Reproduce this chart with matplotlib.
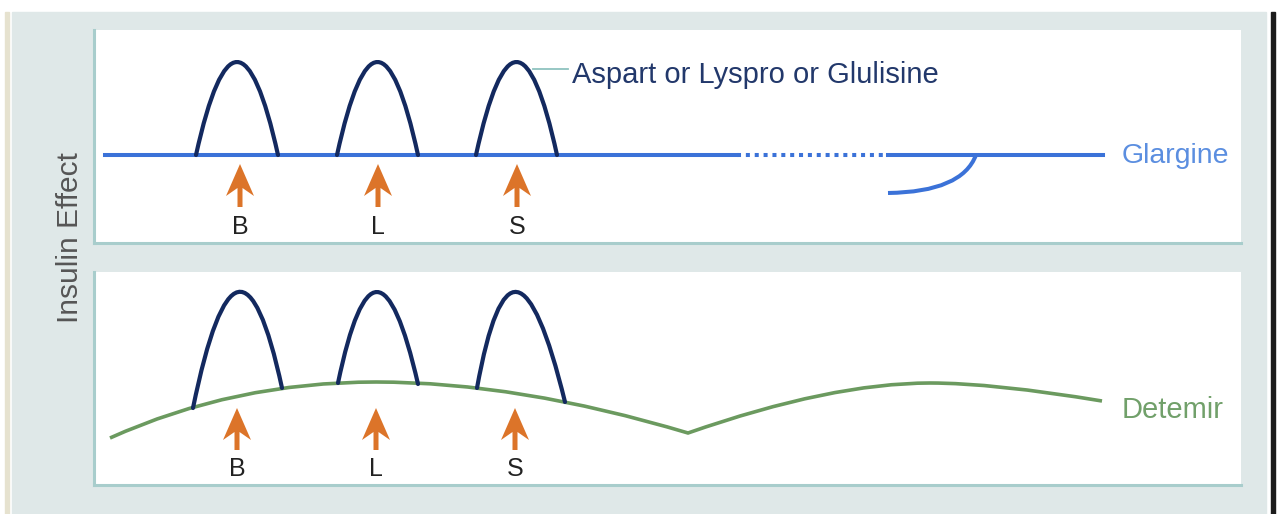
import matplotlib.pyplot as plt
from matplotlib.path import Path
from matplotlib.patches import PathPatch, FancyArrow, Rectangle

plt.rcParams["font.family"] = ["Liberation Sans", "DejaVu Sans"]

# ---------- Data (x = time position, y = insulin effect, panel units) ----------
meal_labels = ["B", "L", "S"]

# top panel: rapid-acting humps over flat glargine
top_meal_x = [146, 284, 423]
top_hump_left = [102, 243, 382]
top_hump_right = [184, 324, 463]
top_hump_peak = 181
glargine_level = 88
glargine_solid_1 = [11, 643]
glargine_dotted = [643, 791]
glargine_solid_2 = [794, 1009]
glargine_dip = [(794, 50), (868, 51), (882, 88)]  # start, control, end

# bottom panel: detemir curve (nodes joined by quadratic curves)
detemir_nodes = [(16, 47), (282, 103), (594, 52), (836, 102), (1008, 84)]
detemir_ctrl = [(140, 103), (424, 103), (737, 102), (900, 102)]
bot_meal_x = [143, 282, 421]
bot_hump_left = [(99, 77), (244, 102), (383, 97)]
bot_hump_right = [(188, 97), (324, 101), (471, 83)]
bot_hump_peak_x = [144, 283, 423]
bot_hump_peak = 193

# ---------- Style ----------
BG = "#dfe8e8"
SPINE = "#a8cdcc"
NAVY = "#13295f"
BLUE = "#3b72d8"
BLUE_TXT = "#5b8ee0"
GREEN = "#6b9a5f"
GREEN_TXT = "#71a06a"
ORANGE = "#dc7429"


def draw_hump(ax, left, peak, right):
    # quadratic bezier through the peak at its midpoint
    cx = 2 * peak[0] - (left[0] + right[0]) / 2
    cy = 2 * peak[1] - (left[1] + right[1]) / 2
    path = Path([left, (cx, cy), right], [Path.MOVETO, Path.CURVE3, Path.CURVE3])
    ax.add_patch(PathPatch(path, fill=False, edgecolor=NAVY, lw=3.0,
                           capstyle="round", zorder=4))


def draw_arrow(ax, x, y0, y1):
    ax.add_patch(FancyArrow(x, y0, 0, y1 - y0, width=5, head_width=28,
                            head_length=32, length_includes_head=True,
                            overhang=0.25, color=ORANGE, lw=0, zorder=5))


def style_panel(ax):
    ax.set_xlim(0, 1147)
    ax.set_ylim(0, 213)
    ax.set_facecolor("white")
    for side in ["top", "right"]:
        ax.spines[side].set_visible(False)
    for side in ["left", "bottom"]:
        ax.spines[side].set_color(SPINE)
        ax.spines[side].set_linewidth(2.2)
    ax.set_xticks([])
    ax.set_yticks([])


fig = plt.figure(figsize=(12.77, 5.14), dpi=100)
fig.patch.set_facecolor("white")
for rect in [((12, 0), 1254, BG), ((5, 0), 4, "#e6e2cf"), ((1271, 0), 4, "#1c1c1c")]:
    (x0, y0), w, c = rect
    fig.patches.append(Rectangle((x0 / 1277, y0), w / 1277, 502 / 514,
                                 transform=fig.transFigure, color=c, zorder=-10))

ax_top = fig.add_axes([94 / 1277, 271 / 514, 1147 / 1277, 213 / 514])
ax_bot = fig.add_axes([94 / 1277, 29 / 514, 1147 / 1277, 213 / 514])
style_panel(ax_top)
style_panel(ax_bot)

# ---------- Top panel ----------
ax_top.plot(glargine_solid_1, [glargine_level] * 2, color=BLUE, lw=2.9, zorder=3)
ax_top.plot(glargine_dotted, [glargine_level] * 2, color=BLUE, lw=2.9,
            dashes=(1.0, 1.2), zorder=3)
ax_top.plot(glargine_solid_2, [glargine_level] * 2, color=BLUE, lw=2.9, zorder=3)
dip = Path(glargine_dip, [Path.MOVETO, Path.CURVE3, Path.CURVE3])
ax_top.add_patch(PathPatch(dip, fill=False, edgecolor=BLUE, lw=2.9, zorder=3))

for xl, xm, xr in zip(top_hump_left, top_meal_x, top_hump_right):
    draw_hump(ax_top, (xl, glargine_level), ((xl + xr) / 2, top_hump_peak),
              (xr, glargine_level))

for x, lab in zip(top_meal_x, meal_labels):
    draw_arrow(ax_top, x, 36, 79)
    ax_top.text(x, 16, lab, ha="center", va="center", fontsize=18, color="#222222")

ax_top.plot([439, 474], [174, 174], color="#8fc3bf", lw=1.3, zorder=3)
ax_top.text(478, 168, "Aspart or Lyspro or Glulisine", ha="left", va="center",
            fontsize=21, color="#22386b")
ax_top.text(1028, 87, "Glargine", ha="left", va="center", fontsize=20.5,
            color=BLUE_TXT)

# ---------- Bottom panel ----------
verts = [detemir_nodes[0]]
codes = [Path.MOVETO]
for ctrl, node in zip(detemir_ctrl, detemir_nodes[1:]):
    verts += [ctrl, node]
    codes += [Path.CURVE3, Path.CURVE3]
ax_bot.add_patch(PathPatch(Path(verts, codes), fill=False, edgecolor=GREEN,
                           lw=2.6, zorder=3))

for left, px, right in zip(bot_hump_left, bot_hump_peak_x, bot_hump_right):
    draw_hump(ax_bot, left, (px, bot_hump_peak), right)

for x, lab in zip(bot_meal_x, meal_labels):
    draw_arrow(ax_bot, x, 35, 77)
    ax_bot.text(x, 16, lab, ha="center", va="center", fontsize=18, color="#222222")

ax_bot.text(1028, 75, "Detemir", ha="left", va="center", fontsize=21,
            color=GREEN_TXT)

fig.text(70 / 1277, 276 / 514, "Insulin Effect", rotation=90, ha="center",
         va="center", fontsize=21.5, color="#555555")

fig.savefig("out.png", dpi=100)
